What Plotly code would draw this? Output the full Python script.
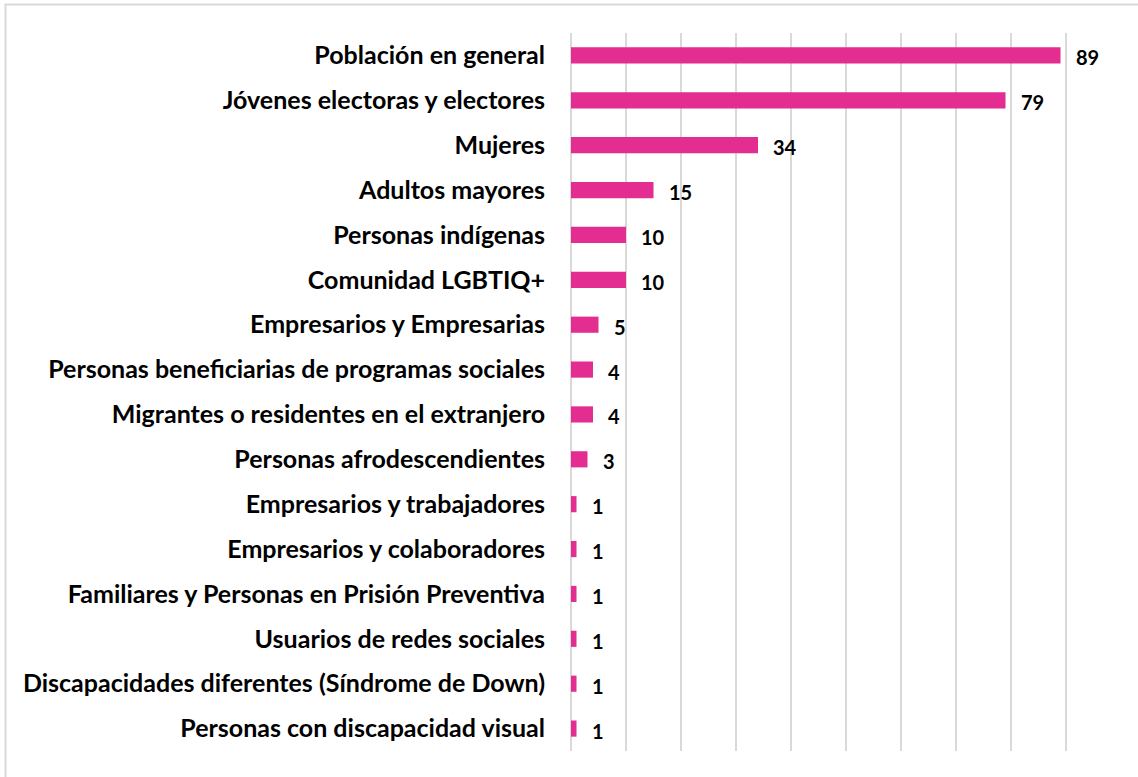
import plotly.graph_objects as go

categorias = [
    "Población en general",
    "Jóvenes electoras y electores",
    "Mujeres",
    "Adultos mayores",
    "Personas indígenas",
    "Comunidad LGBTIQ+",
    "Empresarios y Empresarias",
    "Personas beneficiarias de programas sociales",
    "Migrantes o residentes en el extranjero",
    "Personas afrodescendientes",
    "Empresarios y trabajadores",
    "Empresarios y colaboradores",
    "Familiares y Personas en Prisión Preventiva",
    "Usuarios de redes sociales",
    "Discapacidades diferentes (Síndrome de Down)",
    "Personas con discapacidad visual",
]
valores = [89, 79, 34, 15, 10, 10, 5, 4, 4, 3, 1, 1, 1, 1, 1, 1]

ROSA = "#E32D91"
GRIS = "#d9d9d9"
FUENTE = "Lato"

fig = go.Figure(go.Bar(
    x=valores,
    y=categorias,
    orientation="h",
    marker=dict(color=ROSA, line=dict(width=0)),
    width=0.36,
    hoverinfo="x+y",
))

# etiquetas de valor a la derecha de cada barra
for c, v in zip(categorias, valores):
    fig.add_annotation(x=v, y=c, text=f"<b>{v}</b>", showarrow=False,
                       xanchor="left", xshift=13, yshift=-2,
                       font=dict(family=FUENTE, size=20, color="black"))

fig.update_layout(
    width=1138, height=777,
    margin=dict(l=571, r=17, t=33, b=26),
    paper_bgcolor="white", plot_bgcolor="white",
    showlegend=False,
    font=dict(family=FUENTE, color="black"),
    xaxis=dict(range=[0, 100], dtick=10, showticklabels=False,
               showgrid=True, gridcolor=GRIS, gridwidth=2,
               zeroline=True, zerolinecolor=GRIS, zerolinewidth=2,
               showline=False, fixedrange=True),
    yaxis=dict(autorange="reversed", showgrid=False, zeroline=False,
               ticks="", ticklabelstandoff=25,
               tickfont=dict(family=FUENTE, size=25, color="black"),
               tickmode="array", tickvals=categorias,
               ticktext=[f"<b>{c}</b>" for c in categorias]),
)

# marco gris del gráfico (solo se ven los bordes izquierdo y superior)
fig.add_shape(type="rect", xref="paper", yref="paper",
              x0=-1.0282, x1=1.1, y0=-0.1, y1=1.0397,
              line=dict(color=GRIS, width=2), layer="below")

# quitar el margen por defecto del body para que la figura empiece en 0,0
fig.write_html("out.html", config={"displayModeBar": False},
               post_script="document.body.style.margin='0px';")
